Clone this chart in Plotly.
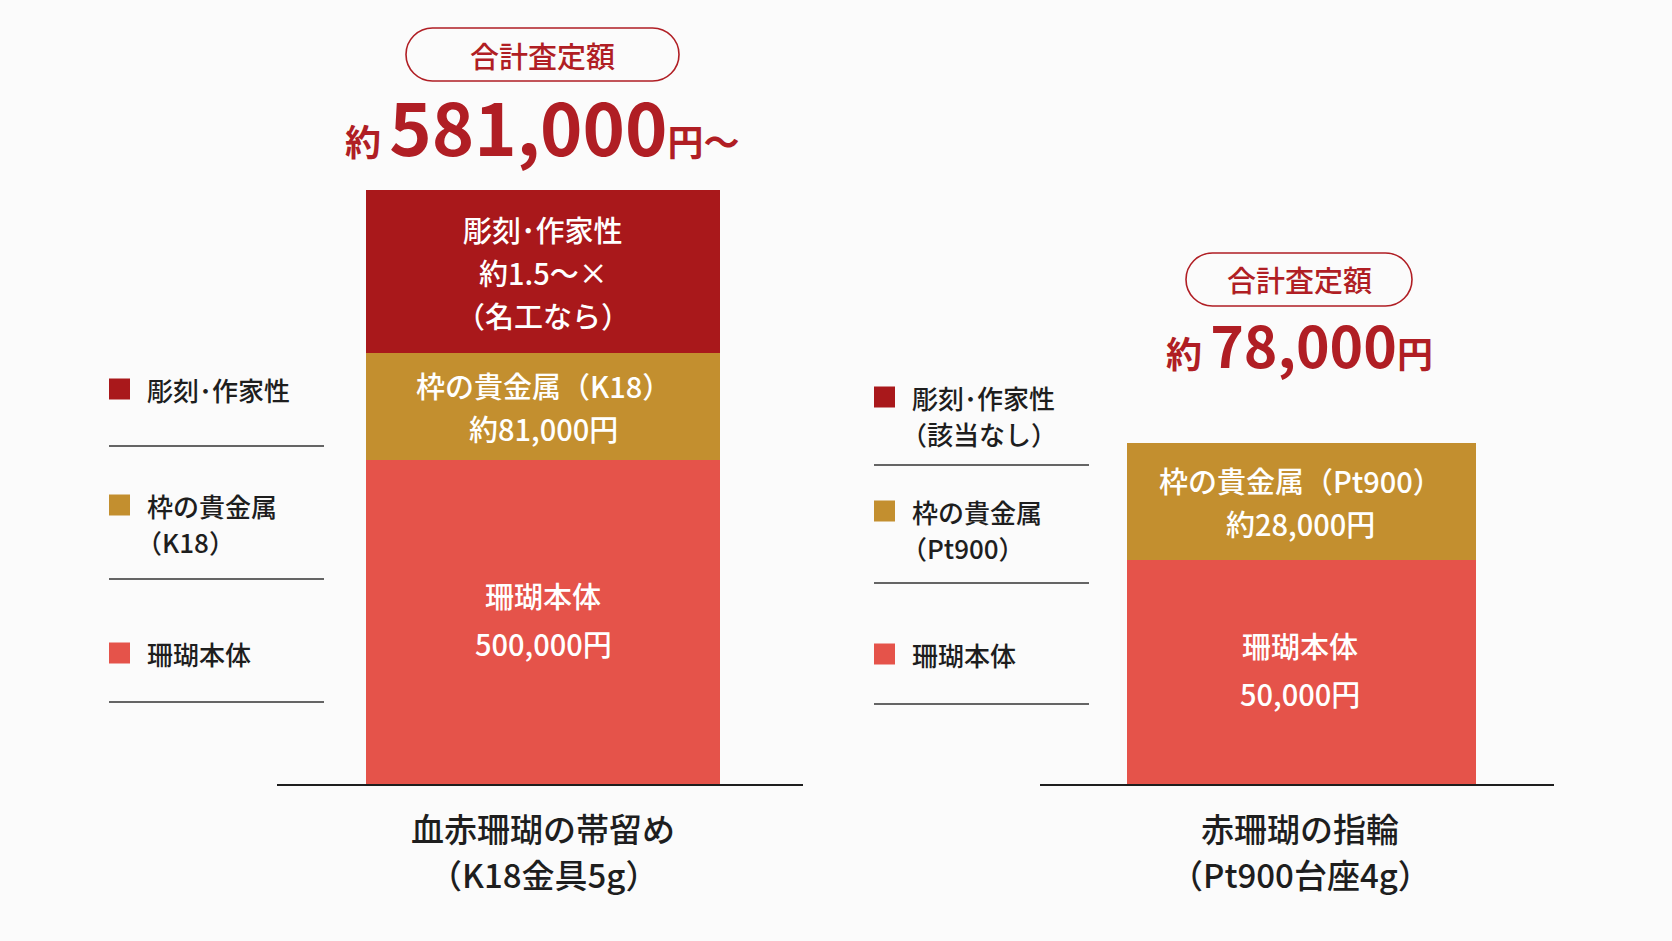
import plotly.graph_objects as go

# 表示上の棒の高さ（金額に比例していないので、参照図の見た目から読んだ単位）
items = ["血赤珊瑚の帯留め", "赤珊瑚の指輪"]
item_notes = ["（K18金具5g）", "（Pt900台座4g）"]
coral_height = [324, 224]
metal_height = [107, 117]
carving_height = [163, 0]

coral_text = ["珊瑚本体<br>500,000円", "珊瑚本体<br>50,000円"]
metal_text = ["枠の貴金属（K18）<br>約81,000円", "枠の貴金属（Pt900）<br>約28,000円"]
carving_text = ["彫刻･作家性<br>約1.5〜×<br>（名工なら）", ""]

total_amount = ["581,000", "78,000"]
total_suffix = ["円〜", "円"]
total_label = "合計査定額"

legend_left = ["彫刻･作家性", "枠の貴金属<br>（K18）", "珊瑚本体"]
legend_right = ["彫刻･作家性<br>（該当なし）", "枠の貴金属<br>（Pt900）", "珊瑚本体"]

CARVING = "#a9181b"
METAL = "#c38f2f"
CORAL = "#e5534a"
RED = "#b01e24"
INK = "#1e1e1e"
BG = "#fbfbfb"
FONT = "Noto Sans CJK JP"

W, H = 1672, 941


def px(x):
    return x / W


def py(y):
    return 1 - y / H


fig = go.Figure()
annotations = []
shapes = []

# 左右の棒（それぞれ別の軸）、ラベルは各区間の中央に
axes = [("x", "y"), ("x2", "y2")]
bar_offset = [-0.331, -0.331]
bar_width = [0.673, 0.679]
for i, (xa, ya) in enumerate(axes):
    base = 0
    for vals, texts, color, gap, nudge in [(coral_height, coral_text, CORAL, 48, 3),
                                           (metal_height, metal_text, METAL, 43, 0),
                                           (carving_height, carving_text, CARVING, 43, 0)]:
        fig.add_trace(go.Bar(
            x=[items[i]],
            y=[vals[i]],
            marker=dict(color=color, line=dict(width=0)),
            width=bar_width[i],
            offset=bar_offset[i],
            xaxis=xa,
            yaxis=ya,
            hoverinfo="skip",
            showlegend=False,
        ))
        if texts[i]:
            parts = texts[i].split("<br>")
            mid = base + vals[i] / 2 + nudge
            for j, part in enumerate(parts):
                # y軸は1単位=1px
                yy = mid + ((len(parts) - 1) / 2 - j) * gap
                annotations.append(dict(text=part, x=items[i], y=yy, xref=xa, yref=ya,
                                        xanchor="center", yanchor="middle", showarrow=False,
                                        xshift=3,
                                        font=dict(family=FONT, size=29, color="white", weight=500)))
        base += vals[i]

    # 品名（軸の下）
    for j, part in enumerate([items[i], item_notes[i]]):
        annotations.append(dict(text=part, x=items[i], y=py(828 + j * 46), xref=xa, yref="paper",
                                xanchor="center", yanchor="middle", showarrow=False, xshift=3,
                                font=dict(family=FONT, size=33, color=INK, weight=500)))


def pill(x0, x1, y0, y1):
    # 角丸（半円）の枠
    r = (y1 - y0) / 2
    k = 0.5523 * r
    path = (f"M {px(x0 + r)},{py(y0)} L {px(x1 - r)},{py(y0)} "
            f"C {px(x1 - r + k)},{py(y0)} {px(x1)},{py(y0 + r - k)} {px(x1)},{py(y0 + r)} "
            f"C {px(x1)},{py(y0 + r + k)} {px(x1 - r + k)},{py(y1)} {px(x1 - r)},{py(y1)} "
            f"L {px(x0 + r)},{py(y1)} "
            f"C {px(x0 + r - k)},{py(y1)} {px(x0)},{py(y0 + r + k)} {px(x0)},{py(y0 + r)} "
            f"C {px(x0)},{py(y0 + r - k)} {px(x0 + r - k)},{py(y0)} {px(x0 + r)},{py(y0)} Z")
    shapes.append(dict(type="path", path=path, xref="paper", yref="paper",
                       line=dict(color=RED, width=1.6), fillcolor="rgba(0,0,0,0)"))
    annotations.append(dict(text=total_label, x=px((x0 + x1) / 2), y=py((y0 + y1) / 2),
                            xref="paper", yref="paper", showarrow=False,
                            xanchor="center", yanchor="middle",
                            font=dict(family=FONT, size=29, color=RED, weight=500)))


def total(i, cx, cy, big):
    txt = (f"<span style='font-size:36px'>約 </span>"
           f"<span style='font-size:{big}px'>{total_amount[i]}</span>"
           f"<span style='font-size:36px'>{total_suffix[i]}</span>")
    annotations.append(dict(text=txt, x=px(cx), y=py(cy), xref="paper", yref="paper",
                            xanchor="center", yanchor="middle",
                            showarrow=False, font=dict(family=FONT, size=36, color=RED, weight=700)))


def legend(labels, sx, tx, rows, lines, lx1):
    colors = [CARVING, METAL, CORAL]
    for lab, color, y in zip(labels, colors, rows):
        shapes.append(dict(type="rect", xref="paper", yref="paper",
                           x0=px(sx), x1=px(sx + 21), y0=py(y - 10.5), y1=py(y + 10.5),
                           fillcolor=color, line=dict(width=0)))
        for j, part in enumerate(lab.split("<br>")):
            # 全角括弧の左の空きを詰める
            shift = -11 if part.startswith("（") else 0
            annotations.append(dict(text=part, x=px(tx), y=py(y + j * 36), xref="paper", yref="paper",
                                    xanchor="left", yanchor="middle", showarrow=False, xshift=shift,
                                    font=dict(family=FONT, size=26, color=INK, weight=500)))
    for y in lines:
        shapes.append(dict(type="line", xref="paper", yref="paper",
                           x0=px(sx), x1=px(lx1), y0=py(y), y1=py(y),
                           line=dict(color="#333333", width=1.3)))


pill(406, 679, 28, 81)
total(0, 542, 125, 72)
pill(1186, 1412, 253, 306)
total(1, 1299, 343, 57)

legend(legend_left, 109, 145, [389, 505, 653], [446, 579, 702], 324)
legend(legend_right, 874, 910, [397, 511, 654], [465, 583, 704], 1089)

axis_common = dict(showline=True, linecolor=INK, linewidth=2, ticks="", showgrid=False,
                   zeroline=False, range=[-0.5, 0.5], fixedrange=True, showticklabels=False)
yaxis_common = dict(range=[0, 594], visible=False, showgrid=False, domain=[py(784), py(190)])

fig.update_layout(
    width=W,
    height=H,
    margin=dict(l=0, r=0, t=0, b=0),
    paper_bgcolor=BG,
    plot_bgcolor=BG,
    barmode="stack",
    xaxis=dict(domain=[px(277), px(803)], anchor="y", **axis_common),
    xaxis2=dict(domain=[px(1040), px(1554)], anchor="y2", **axis_common),
    yaxis=dict(anchor="x", **yaxis_common),
    yaxis2=dict(anchor="x2", **yaxis_common),
    shapes=shapes,
    annotations=annotations,
    font=dict(family=FONT, color=INK),
)

# ページ既定の余白を消して図を左上にそろえる
fig.write_html("out.html", config={"displayModeBar": False},
               post_script="document.body.style.margin='0';document.body.style.overflow='hidden';")
